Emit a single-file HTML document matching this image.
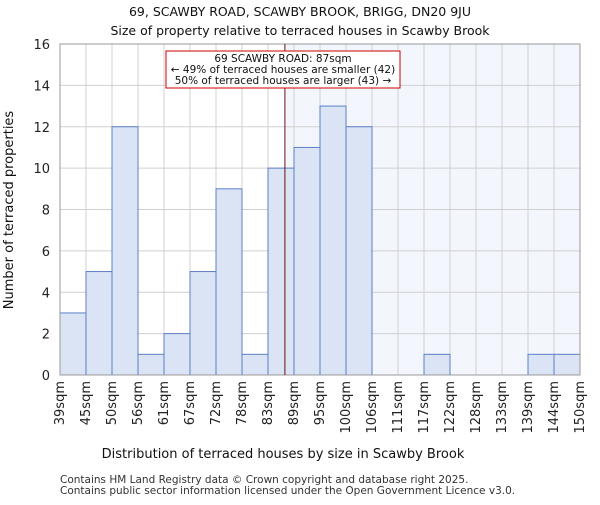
<!DOCTYPE html>
<html><head><meta charset="utf-8"><style>body{margin:0;background:#fff}svg{font-family:"DejaVu Sans","Liberation Sans",sans-serif}</style></head>
<body>
<svg id="c" width="600" height="500"></svg>
<script>
const categories=["39sqm","45sqm","50sqm","56sqm","61sqm","67sqm","72sqm","78sqm","83sqm","89sqm","95sqm","100sqm","106sqm","111sqm","117sqm","122sqm","128sqm","133sqm","139sqm","144sqm","150sqm"];
const counts=[3,5,12,1,2,5,9,1,10,11,13,12,0,0,1,0,0,0,1,1];
const yTicks=[0,2,4,6,8,10,12,14,16];
const markerIndex=8.65;
const NS="http://www.w3.org/2000/svg";
const svg=document.getElementById('c');
const L=60,R=580,T=44,B=375,n=counts.length,bw=(R-L)/n;
const xs=i=>L+i*bw, ys=v=>B-(v/16)*(B-T);
function el(t,a,txt){const e=document.createElementNS(NS,t);for(const k in a)e.setAttribute(k,a[k]);if(txt!=null)e.textContent=txt;svg.appendChild(e);return e;}
let e;
e=el('rect',{x:xs(markerIndex),y:T,width:R-xs(markerIndex),height:B-T,fill:'#f3f6fd'});


for(let i=0;i<=n;i++){e=el('line',{x1:xs(i),x2:xs(i),y1:T,y2:B,stroke:'#d0d0d0','stroke-width':1});

}
yTicks.forEach(v=>{e=el('line',{x1:L,x2:R,y1:ys(v),y2:ys(v),stroke:'#d0d0d0','stroke-width':1});


e=el('text',{x:L-10,y:ys(v)+5,'text-anchor':'end','font-size':13,fill:'#222'},v);

});
counts.forEach((v,i)=>{if(v>0){e=el('rect',{x:xs(i),y:ys(v),width:bw,height:B-ys(v),fill:'#dbe4f5',stroke:'#5b7fc4','stroke-width':1});

}});
categories.forEach((c,i)=>{const x=xs(i)+4;e=el('text',{transform:`translate(${x},381) rotate(-90)`,'text-anchor':'end','font-size':13,fill:'#222'},c);

});
e=el('rect',{x:L,y:T,width:R-L,height:B-T,fill:'none',stroke:'#999'});


e=el('line',{x1:xs(markerIndex),x2:xs(markerIndex),y1:T,y2:B,stroke:'#6b0f0f','stroke-width':1});


e=el('rect',{x:166,y:51,width:234,height:37,fill:'#fff',stroke:'#c00','stroke-width':1});


[["69 SCAWBY ROAD: 87sqm",62],["← 49% of terraced houses are smaller (42)",73],["50% of terraced houses are larger (43) →",84]].forEach(([t,y])=>{e=el('text',{x:283,y:y,'text-anchor':'middle','font-size':10.5,fill:'#111'},t);

});
e=el('text',{x:300,y:16,'text-anchor':'middle','font-size':12.5,fill:'#111'},"69, SCAWBY ROAD, SCAWBY BROOK, BRIGG, DN20 9JU");


e=el('text',{x:300,y:35,'text-anchor':'middle','font-size':12.5,fill:'#111'},"Size of property relative to terraced houses in Scawby Brook");


e=el('text',{x:283,y:458,'text-anchor':'middle','font-size':13,fill:'#111'},"Distribution of terraced houses by size in Scawby Brook");


e=el('text',{transform:'translate(13,210) rotate(-90)','text-anchor':'middle','font-size':13,fill:'#111'},"Number of terraced properties");


e=el('text',{x:60,y:483,'font-size':10.5,fill:'#333'},"Contains HM Land Registry data © Crown copyright and database right 2025.");


e=el('text',{x:60,y:494,'font-size':10.5,fill:'#333'},"Contains public sector information licensed under the Open Government Licence v3.0.");


</script>
</body></html>
